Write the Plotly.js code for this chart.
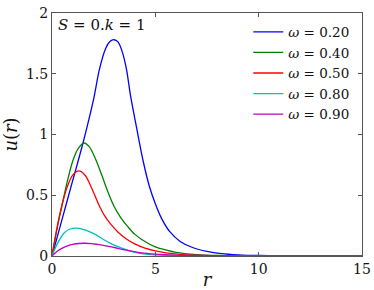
<!DOCTYPE html>
<html>
<head>
<meta charset="utf-8">
<script src="https://cdn.plot.ly/plotly-3.0.1.min.js"></script>
<style>html,body{margin:0;padding:0;background:#fff}#chart{width:374px;height:290px}</style>
</head>
<body>
<div id="chart"></div>
<script>
const omegas = ["0.20", "0.40", "0.50", "0.80", "0.90"];
const colors = ["#0000ff", "#008000", "#ff0000", "#00bfbf", "#bf00bf"];

const r_w020 = [0, 0.5, 1.0, 1.5, 2.0, 2.3, 2.6, 2.8, 3.0, 3.2, 3.4, 3.6, 3.8, 4.1, 4.4, 4.7, 5.0, 5.3, 5.7, 6.2, 6.8, 7.5, 8.2, 9, 10, 12, 15];
const u_w020 = [0, 0.31, 0.62, 0.93, 1.28, 1.54, 1.71, 1.765, 1.78, 1.76, 1.68, 1.54, 1.32, 1.05, 0.79, 0.58, 0.43, 0.31, 0.20, 0.12, 0.07, 0.038, 0.02, 0.01, 0.004, 0.0008, 0];

const r_w040 = [0, 0.25, 0.5, 0.75, 1.0, 1.25, 1.55, 1.8, 2.1, 2.4, 2.7, 3.0, 3.35, 3.7, 4.0, 4.4, 5.0, 5.5, 6.0, 7, 8, 10, 15];
const u_w040 = [0, 0.23, 0.43, 0.62, 0.78, 0.88, 0.93, 0.90, 0.80, 0.67, 0.53, 0.41, 0.31, 0.235, 0.18, 0.13, 0.075, 0.05, 0.03, 0.012, 0.005, 0.001, 0];

const r_w050 = [0, 0.25, 0.5, 0.75, 1.0, 1.3, 1.6, 1.85, 2.07, 2.3, 2.55, 2.85, 3.2, 3.6, 4.0, 4.5, 5.0, 5.5, 6.5, 8, 10, 15];
const u_w050 = [0, 0.24, 0.43, 0.575, 0.665, 0.70, 0.665, 0.585, 0.50, 0.41, 0.33, 0.26, 0.196, 0.14, 0.10, 0.065, 0.042, 0.026, 0.01, 0.003, 0.0005, 0];

const r_w080 = [0, 0.15, 0.3, 0.45, 0.62, 0.85, 1.0, 1.2, 1.45, 1.75, 2.07, 2.45, 2.88, 3.3, 3.7, 4.33, 5, 6, 8, 10, 15];
const u_w080 = [0, 0.062, 0.114, 0.158, 0.196, 0.22, 0.227, 0.229, 0.222, 0.205, 0.18, 0.14, 0.10, 0.07, 0.045, 0.02, 0.009, 0.003, 0.0005, 0.0001, 0];

const r_w090 = [0, 0.15, 0.3, 0.5, 0.78, 1.0, 1.3, 1.6, 1.9, 2.2, 2.55, 3.0, 3.52, 4.0, 4.33, 5.0, 6.0, 7, 8.5, 10, 12, 15];
const u_w090 = [0, 0.024, 0.045, 0.065, 0.086, 0.096, 0.103, 0.105, 0.102, 0.095, 0.086, 0.07, 0.051, 0.036, 0.026, 0.016, 0.008, 0.004, 0.0015, 0.0005, 0.0001, 0];

const xTicks = [0, 5, 10, 15];
const yTicks = [0, 0.5, 1, 1.5, 2];
const yTickText = ["0", "0.5", "1", "1.5", "2"];

const rs = [r_w020, r_w040, r_w050, r_w080, r_w090];
const us = [u_w020, u_w040, u_w050, u_w080, u_w090];

const serif = "DejaVu Serif";

const traces = omegas.map((w, i) => ({
  x: rs[i], y: us[i], type: "scatter", mode: "lines",
  name: "<i>ω</i> = " + w,
  line: {color: colors[i], width: 1.3, shape: "spline", smoothing: 0.9}
}));

const axisCommon = {
  showgrid: false, zeroline: false, showline: true, linecolor: "#555", linewidth: 1,
  mirror: "ticks", ticks: "inside", ticklen: 4, tickcolor: "#555",
  tickfont: {family: serif, size: 14, color: "#111"}
};

const layout = {
  width: 374, height: 290,
  margin: {l: 52, r: 12, t: 13, b: 34},
  paper_bgcolor: "#fff", plot_bgcolor: "#fff",
  font: {family: serif},
  showlegend: true,
  legend: {x: 0.975, xanchor: "right", y: 0.985, yanchor: "top", bgcolor: "rgba(0,0,0,0)",
           font: {family: serif, size: 13.5, color: "#111"}, itemwidth: 30},
  xaxis: Object.assign({}, axisCommon, {range: [0, 15], tickvals: xTicks,
    title: {text: "<i>r</i>", font: {family: serif, size: 18, color: "#111"}, standoff: 0}}),
  yaxis: Object.assign({}, axisCommon, {range: [0, 2], tickvals: yTicks, ticktext: yTickText,
    title: {text: "<i>u</i>(<i>r</i>)", font: {family: serif, size: 18, color: "#111"}, standoff: 8}}),
  annotations: [{
    xref: "paper", yref: "paper", x: 0.012, y: 0.995, xanchor: "left", yanchor: "top",
    showarrow: false, text: "<i>S</i> = 0.<i>k</i> = 1",
    font: {family: serif, size: 15, color: "#111"}
  }]
};

Plotly.newPlot("chart", traces, layout, {displayModeBar: false, staticPlot: true});
</script>
</body>
</html>
